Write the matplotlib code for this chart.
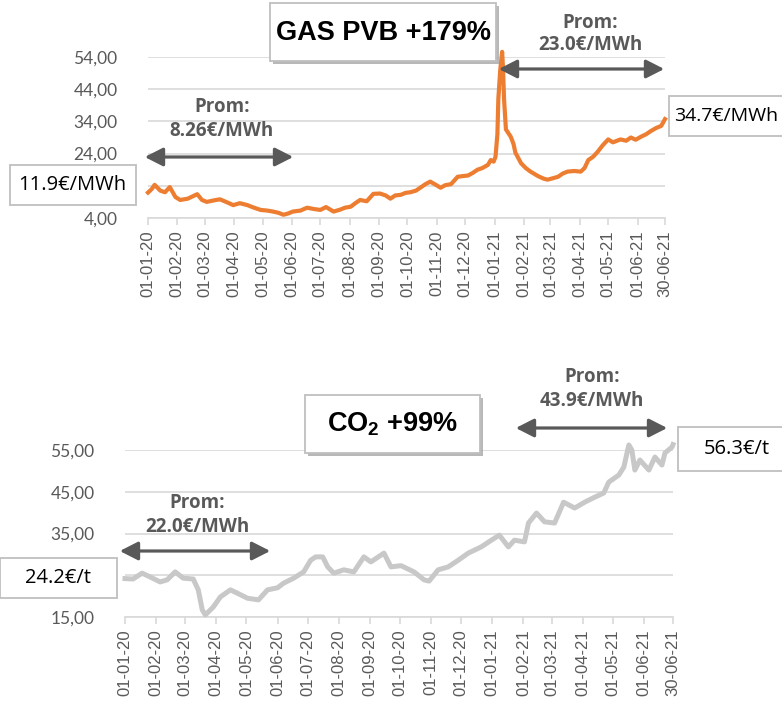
import matplotlib
matplotlib.use('Agg')
import matplotlib.pyplot as plt
import matplotlib.patheffects as pe
from matplotlib.patches import Rectangle, FancyArrowPatch
import pandas as pd

plt.rcParams['mathtext.fontset'] = 'custom'
plt.rcParams['mathtext.bf'] = 'Liberation Sans:bold'
plt.rcParams['mathtext.rm'] = 'Liberation Sans'

# ---------------- data ----------------
gas_dates = [
    '2020-01-01', '2020-01-05', '2020-01-08', '2020-01-14', '2020-01-19', '2020-01-24', '2020-01-30',
    '2020-02-04', '2020-02-12', '2020-02-22', '2020-02-27', '2020-03-03', '2020-03-11', '2020-03-17',
    '2020-03-25', '2020-03-31', '2020-04-07', '2020-04-15', '2020-04-21', '2020-04-29', '2020-05-06',
    '2020-05-12', '2020-05-18', '2020-05-23', '2020-05-28', '2020-06-02', '2020-06-10', '2020-06-17',
    '2020-06-24', '2020-07-01', '2020-07-07', '2020-07-15', '2020-07-22', '2020-07-27', '2020-08-02',
    '2020-08-07', '2020-08-12', '2020-08-19', '2020-08-26', '2020-09-02', '2020-09-08', '2020-09-13',
    '2020-09-18', '2020-09-24', '2020-09-29', '2020-10-04', '2020-10-10', '2020-10-15', '2020-10-20',
    '2020-10-25', '2020-10-31', '2020-11-05', '2020-11-10', '2020-11-16', '2020-11-23', '2020-11-28',
    '2020-12-04', '2020-12-09', '2020-12-14', '2020-12-19', '2020-12-25', '2020-12-28', '2020-12-31',
    '2021-01-02', '2021-01-04', '2021-01-05', '2021-01-07', '2021-01-09', '2021-01-10', '2021-01-11',
    '2021-01-13', '2021-01-18', '2021-01-21', '2021-01-23', '2021-01-29', '2021-02-03', '2021-02-08',
    '2021-02-16', '2021-02-22', '2021-02-26', '2021-03-03', '2021-03-09', '2021-03-14', '2021-03-19',
    '2021-03-26', '2021-04-02', '2021-04-06', '2021-04-10', '2021-04-15', '2021-04-20', '2021-04-25',
    '2021-05-01', '2021-05-06', '2021-05-14', '2021-05-20', '2021-05-25', '2021-05-30', '2021-06-05',
    '2021-06-10', '2021-06-15', '2021-06-21', '2021-06-26', '2021-06-30']
gas_values = [
    11.9, 13.0, 14.3, 12.5, 12.0, 13.6, 10.5,
    9.6, 10.0, 11.4, 9.6, 9.0, 9.5, 9.8,
    8.8, 8.0, 8.6, 8.0, 7.3, 6.5, 6.3,
    6.0, 5.6, 5.0, 5.4, 6.0, 6.3, 7.2,
    6.8, 6.5, 7.4, 6.0, 6.6, 7.2, 7.5,
    8.6, 9.6, 9.2, 11.5, 11.6, 11.0, 10.0,
    11.0, 11.2, 11.8, 12.0, 12.5, 13.5, 14.5,
    15.3, 14.3, 13.4, 14.2, 14.5, 16.8, 17.0,
    17.2, 18.0, 19.0, 19.5, 20.5, 22.0, 21.5,
    23.0, 30.0, 41.0, 50.0, 55.6, 50.0, 41.0,
    31.5, 29.3, 27.0, 24.3, 21.0, 19.5, 18.4,
    17.0, 16.2, 15.9, 16.3, 16.8, 17.8, 18.4,
    18.6, 18.4, 19.5, 22.0, 23.0, 24.6, 26.5,
    28.4, 27.5, 28.4, 28.0, 29.0, 28.3, 29.3,
    30.0, 31.0, 32.0, 32.6, 34.7]

co2_dates = [
    '2020-01-01', '2020-01-09', '2020-01-18', '2020-01-26', '2020-02-05', '2020-02-12', '2020-02-20',
    '2020-02-28', '2020-03-09', '2020-03-14', '2020-03-18', '2020-03-21', '2020-03-29', '2020-04-05',
    '2020-04-15', '2020-04-22', '2020-05-02', '2020-05-13', '2020-05-22', '2020-06-01', '2020-06-07',
    '2020-06-17', '2020-06-27', '2020-07-04', '2020-07-09', '2020-07-16', '2020-07-21', '2020-07-27',
    '2020-08-06', '2020-08-16', '2020-08-26', '2020-09-02', '2020-09-15', '2020-09-22', '2020-10-02',
    '2020-10-15', '2020-10-25', '2020-10-30', '2020-11-08', '2020-11-18', '2020-11-28', '2020-12-08',
    '2020-12-21', '2020-12-31', '2021-01-08', '2021-01-17', '2021-01-23', '2021-02-02', '2021-02-06',
    '2021-02-14', '2021-02-22', '2021-03-04', '2021-03-13', '2021-03-24', '2021-04-03', '2021-04-13',
    '2021-04-22', '2021-04-27', '2021-05-07', '2021-05-12', '2021-05-17', '2021-05-20', '2021-05-23',
    '2021-05-28', '2021-06-06', '2021-06-12', '2021-06-19', '2021-06-22', '2021-06-29', '2021-06-30']
co2_values = [
    24.2, 24.1, 25.5, 24.6, 23.4, 23.9, 25.8,
    24.3, 24.1, 21.5, 16.7, 15.5, 17.4, 19.8,
    21.5, 20.7, 19.5, 19.1, 21.5, 22.0, 23.1,
    24.3, 25.8, 28.6, 29.4, 29.4, 27.0, 25.5,
    26.3, 25.8, 29.4, 28.2, 30.3, 27.0, 27.3,
    25.8, 23.9, 23.6, 26.3, 27.0, 28.6, 30.3,
    31.8, 33.4, 34.6, 31.8, 33.4, 33.0, 37.5,
    39.9, 37.8, 37.5, 42.5, 41.1, 42.5, 43.7,
    44.7, 47.3, 49.0, 50.9, 56.2, 55.0, 50.2,
    52.6, 50.2, 53.3, 51.4, 54.3, 55.7, 56.3]

x_tick_dates = ['2020-01-01', '2020-02-01', '2020-03-01', '2020-04-01', '2020-05-01', '2020-06-01',
                '2020-07-01', '2020-08-01', '2020-09-01', '2020-10-01', '2020-11-01', '2020-12-01',
                '2021-01-01', '2021-02-01', '2021-03-01', '2021-04-01', '2021-05-01', '2021-06-01',
                '2021-06-30']
x_tick_labels = ['01-01-20', '01-02-20', '01-03-20', '01-04-20', '01-05-20', '01-06-20',
                 '01-07-20', '01-08-20', '01-09-20', '01-10-20', '01-11-20', '01-12-20',
                 '01-01-21', '01-02-21', '01-03-21', '01-04-21', '01-05-21', '01-06-21',
                 '30-06-21']
gas_y_ticks = [4, 14, 24, 34, 44, 54]
# the 14,00 label is hidden behind the start-value box in the reference
gas_y_labels = ['4,00', '', '24,00', '34,00', '44,00', '54,00']
co2_y_ticks = [15, 25, 35, 45, 55]
# the 25,00 label is hidden behind the start-value box in the reference
co2_y_labels = ['15,00', '', '35,00', '45,00', '55,00']

gas_title = 'GAS PVB +179%'
co2_title = r'$\mathbf{CO_2}$ +99%'
gas_start_label, gas_end_label = '11.9€/MWh', '34.7€/MWh'
co2_start_label, co2_end_label = '24.2€/t', '56.3€/t'
gas_avg = ['Prom:\n8.26€/MWh', 'Prom:\n23.0€/MWh']
co2_avg = ['Prom:\n22.0€/MWh', 'Prom:\n43.9€/MWh']

# ---------------- figure ----------------
W, H = 782, 705
fig = plt.figure(figsize=(W / 100, H / 100), dpi=100)
fig.patch.set_facecolor('white')


def fx(px):
    return px / W


def fy(py):
    return 1 - py / H


GRID = '#D9D9D9'
TXT = '#595959'
ARROW = '#595959'

ax1 = fig.add_axes([fx(148), fy(218), fx(665) - fx(148), fy(57) - fy(218)])
ax2 = fig.add_axes([fx(125), fy(617), fx(673) - fx(125), fy(450) - fy(617)])

tick_pos = pd.to_datetime(x_tick_dates)


def style(ax, yticks, ylabels, ylim):
    for s in ['top', 'right', 'left']:
        ax.spines[s].set_visible(False)
    ax.spines['bottom'].set_color(GRID)
    ax.spines['bottom'].set_linewidth(1.2)
    ax.set_ylim(*ylim)
    ax.set_yticks(yticks)
    ax.set_yticklabels(ylabels, family='Lato', fontsize=12.5, color=TXT)
    ax.grid(axis='y', color=GRID, lw=1.2)
    ax.set_axisbelow(True)
    ax.set_xlim(pd.Timestamp('2020-01-01'), pd.Timestamp('2021-06-30'))
    ax.set_xticks(tick_pos)
    ax.set_xticklabels(x_tick_labels, rotation=90, fontsize=12, color=TXT,
                       family='Liberation Sans')
    ax.tick_params(axis='x', length=5, width=1.2, color=GRID, pad=4)
    ax.tick_params(axis='y', length=0, pad=22)


style(ax1, gas_y_ticks, gas_y_labels, (4, 54))
style(ax2, co2_y_ticks, co2_y_labels, (15, 55))

ax1.plot(pd.to_datetime(gas_dates), gas_values, color='#ED7D31', lw=3.0,
         solid_joinstyle='round', clip_on=False, zorder=3)
ax2.plot(pd.to_datetime(co2_dates), co2_values, color='#C8C8C8', lw=3.6,
         solid_joinstyle='round', clip_on=False, zorder=3)


def box(x0, y0, x1, y1, shadow=False):
    r = Rectangle((fx(x0), fy(y1)), fx(x1) - fx(x0), fy(y0) - fy(y1),
                  transform=fig.transFigure, facecolor='white', edgecolor='#BFBFBF',
                  lw=1.3, zorder=5)
    if shadow:
        r.set_path_effects([pe.SimplePatchShadow(offset=(2, -2), shadow_rgbFace='#A6A6A6', alpha=0.8),
                            pe.Normal()])
    fig.add_artist(r)


def arrow(x0, x1, y):
    a = FancyArrowPatch((fx(x0), fy(y)), (fx(x1), fy(y)), transform=fig.transFigure,
                        arrowstyle='<|-|>,head_length=0.55,head_width=0.28',
                        mutation_scale=20, lw=2.3, color=ARROW, zorder=6)
    fig.add_artist(a)


# title boxes
box(270, 3, 496, 61, shadow=True)
fig.text(fx(384), fy(33), gas_title, ha='center', va='center', fontsize=19.5,
         fontweight='bold', family='Liberation Sans', color='black', zorder=7)
box(305, 395, 480, 453, shadow=True)
fig.text(fx(393), fy(424), co2_title, ha='center', va='center', fontsize=19.5,
         fontweight='bold', family='Liberation Sans', color='black', zorder=7)

# value boxes
box(10, 165, 136, 205)
fig.text(fx(72), fy(185), gas_start_label, ha='center', va='center', fontsize=14.5,
         family='Open Sans', color='black', zorder=7)
box(669, 96, 800, 136)
fig.text(fx(674), fy(116), gas_end_label, ha='left', va='center', fontsize=14,
         family='Open Sans', color='black', zorder=7)
box(0, 558, 117, 598)
fig.text(fx(58), fy(578), co2_start_label, ha='center', va='center', fontsize=14.5,
         family='Open Sans', color='black', zorder=7)
box(678, 427, 800, 471)
fig.text(fx(737), fy(449), co2_end_label, ha='center', va='center', fontsize=14.5,
         family='Open Sans', color='black', zorder=7)

# average annotations
arrow(142, 296, 157)
fig.text(fx(222), fy(119), gas_avg[0], ha='center', va='center', fontsize=13.5,
         fontweight='bold', family='Open Sans', color=TXT, linespacing=1.2, zorder=7)
arrow(496, 667, 69)
fig.text(fx(590), fy(34), gas_avg[1], ha='center', va='center', fontsize=13.5,
         fontweight='bold', family='Open Sans', color=TXT, linespacing=1.2, zorder=7)
arrow(117, 273, 551)
fig.text(fx(197), fy(515), co2_avg[0], ha='center', va='center', fontsize=13.5,
         fontweight='bold', family='Open Sans', color=TXT, linespacing=1.2, zorder=7)
arrow(513, 670, 428)
fig.text(fx(592), fy(389), co2_avg[1], ha='center', va='center', fontsize=13.5,
         fontweight='bold', family='Open Sans', color=TXT, linespacing=1.2, zorder=7)

fig.savefig('out.png', dpi=100, facecolor='white')
